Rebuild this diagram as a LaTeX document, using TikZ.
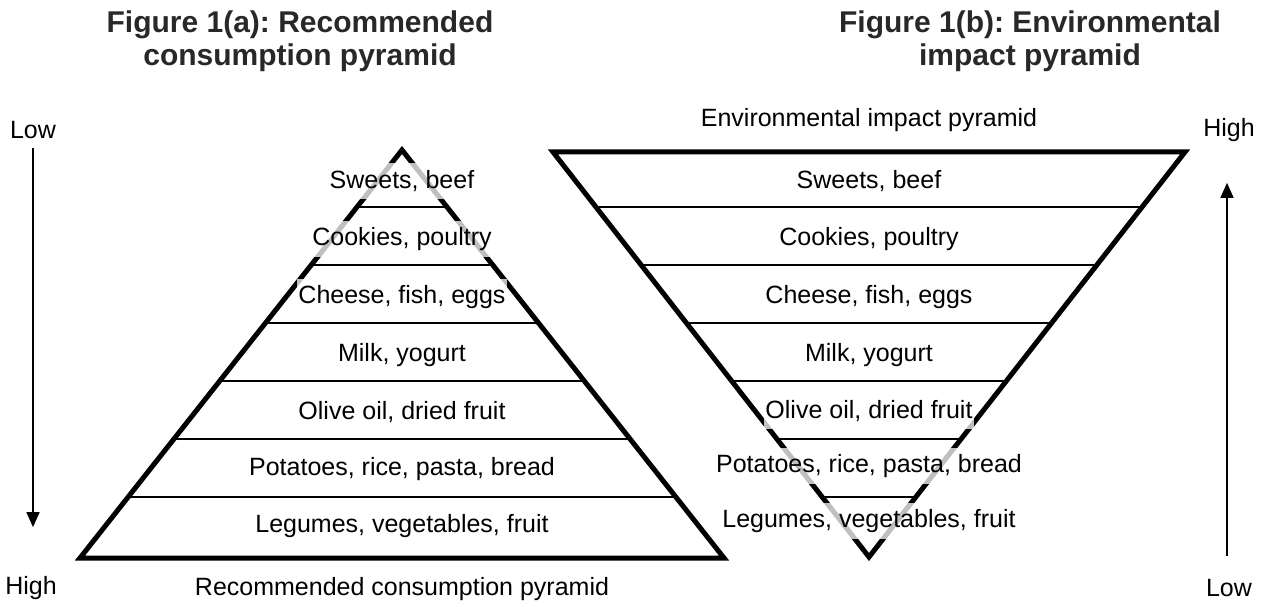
\documentclass[tikz,border=0pt]{standalone}
\usepackage{fontspec}
\setmainfont{Liberation Sans}
\usetikzlibrary{calc,arrows.meta}
\definecolor{titlegray}{RGB}{40,40,40}
\frenchspacing
\begin{document}
\begin{tikzpicture}[x=1pt,y=-1pt,
  edge/.style={line width=5pt, line join=miter},
  divider/.style={line width=1.5pt},
  lab/.style={fill=white, fill opacity=0.75, text opacity=1, inner xsep=1.5pt, inner ysep=0pt,
     minimum height=36pt, font=\fontsize{25}{29}\selectfont},
  plain/.style={inner sep=0pt, font=\fontsize{25}{29}\selectfont},
  ttl/.style={align=center, text=titlegray, font=\fontsize{30}{33}\selectfont\bfseries},
  scalearrow/.style={line width=1.5pt, -{Triangle[length=15pt,width=13pt]}}]
\useasboundingbox (0,0) rectangle (1264,607);
% titles
\node[ttl] (t1) at (300,41) {Figure 1(a): Recommended\\consumption pyramid};
\node[ttl] (t2) at (1030,41) {Figure 1(b): Environmental\\impact pyramid};
% left pyramid
\coordinate (LA) at (402,150);
\coordinate (LB) at (80,558);
\coordinate (LC) at (724,558);
\draw[edge] (LA) -- (LB) -- (LC) -- cycle;
\foreach \y in {207,265,323,381,439,497}{
  \pgfmathsetmacro{\t}{(\y-150)/408}
  \draw[divider] ($(LA)!\t!(LB)$) -- ($(LA)!\t!(LC)$);
}
\node[lab] (l1) at (402,181) {Sweets, beef};
\node[lab] (l2) at (402,239) {Cookies, poultry};
\node[lab] (l3) at (402,297) {Cheese, fish, eggs};
\node[lab] (l4) at (402,355) {Milk, yogurt};
\node[lab] (l5) at (402,412) {Olive oil, dried fruit};
\node[lab] (l6) at (402,469) {Potatoes, rice, pasta, bread};
\node[lab] (l7) at (402,526) {Legumes, vegetables, fruit};
\node[plain] (lcap) at (402,589) {Recommended consumption pyramid};
% right pyramid
\coordinate (RA) at (553,152);
\coordinate (RB) at (1185,152);
\coordinate (RC) at (869,557);
\draw[edge] (RA) -- (RB) -- (RC) -- cycle;
\foreach \y in {207,265,323,381,439,497}{
  \pgfmathsetmacro{\t}{(\y-152)/405}
  \draw[divider] ($(RA)!\t!(RC)$) -- ($(RB)!\t!(RC)$);
}
\node[plain] (rcap) at (869,120) {Environmental impact pyramid};
\node[lab] (r1) at (869,181) {Sweets, beef};
\node[lab] (r2) at (869,239) {Cookies, poultry};
\node[lab] (r3) at (869,297) {Cheese, fish, eggs};
\node[lab] (r4) at (869,355) {Milk, yogurt};
\node[lab] (r5) at (869,411) {Olive oil, dried fruit};
\node[lab] (r6) at (869,466) {Potatoes, rice, pasta, bread};
\node[lab] (r7) at (869,521) {Legumes, vegetables, fruit};
% scales
\node[plain] (lowL) at (33,130) {Low};
\node[plain] (highL) at (31,588) {High};
\draw[scalearrow] ($(lowL.south)+(0,9)$) coordinate (la0) -- ($(highL.north)+(2,-49)$) coordinate (la1);
\node[plain] (highR) at (1229,130) {High};
\node[plain] (lowR) at (1229,588) {Low};
\draw[scalearrow] ($(lowR.north)+(-2,-23)$) coordinate (ra0) -- ($(highR.south)+(-2,41)$) coordinate (ra1);
\end{tikzpicture}
\end{document}
